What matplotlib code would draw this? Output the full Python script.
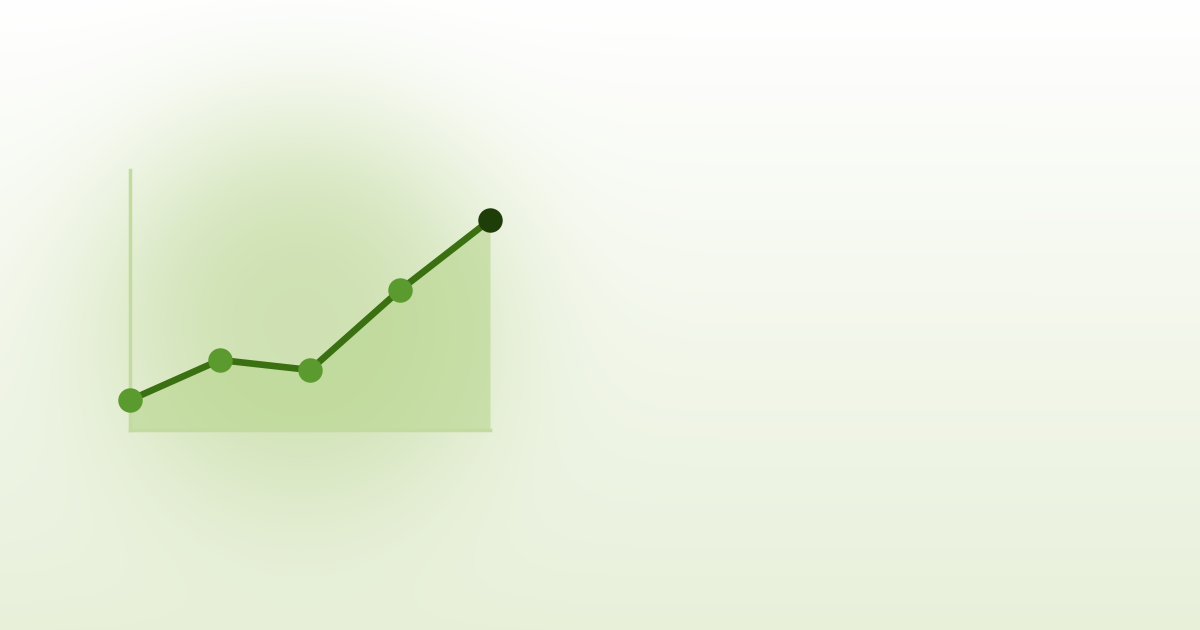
import numpy as np
import matplotlib
matplotlib.use('Agg')
import matplotlib.pyplot as plt
from matplotlib.colors import to_rgb

# data
steps = [0, 1, 2, 3, 4]
values = [3, 7, 6, 14, 21]
y_top = 26

W, H = 1200, 630
fig = plt.figure(figsize=(W / 100, H / 100), dpi=100)

# background: vertical gradient + soft radial glow
bg = fig.add_axes([0, 0, 1, 1])
bg.set_axis_off()
yy, xx = np.mgrid[0:H, 0:W]
top = np.array(to_rgb('#ffffff'))
bottom = np.array(to_rgb('#e8f0da'))
t = np.clip(yy / H, 0, 1)[..., None]
img = top * (1 - t) + bottom * t
glow = np.array(to_rgb('#c9dea9'))
r2 = ((xx - 300) ** 2 + (yy - 315) ** 2) / (205.0 ** 2)
a = (0.85 * np.exp(-r2 ** 1.4))[..., None]
img = img * (1 - a) + glow * a
bg.imshow(img, extent=[0, W, H, 0], aspect='auto', interpolation='bilinear')
bg.set_xlim(0, W)
bg.set_ylim(H, 0)

# chart
ax = fig.add_axes([130 / W, (H - 430) / H, 360 / W, 260 / H])
ax.patch.set_alpha(0)
ax.set_xlim(steps[0], steps[-1])
ax.set_ylim(0, y_top)
ax.fill_between(steps, values, 0, color='#b8d58e', alpha=0.6, lw=0)
ax.plot(steps, values, color='#3b7012', lw=4.8, solid_capstyle='round', zorder=3, clip_on=False)
ax.scatter(steps[:-1], values[:-1], s=310, color='#5a9a2e', zorder=4, clip_on=False, lw=0)
ax.scatter(steps[-1:], values[-1:], s=310, color='#1f3d08', zorder=5, clip_on=False, lw=0)

for side in ['top', 'right']:
    ax.spines[side].set_visible(False)
for side in ['left', 'bottom']:
    ax.spines[side].set_color('#c3dba0')
    ax.spines[side].set_linewidth(2.5)
ax.set_xticks([])
ax.set_yticks([])

fig.savefig('out.png', dpi=100)
